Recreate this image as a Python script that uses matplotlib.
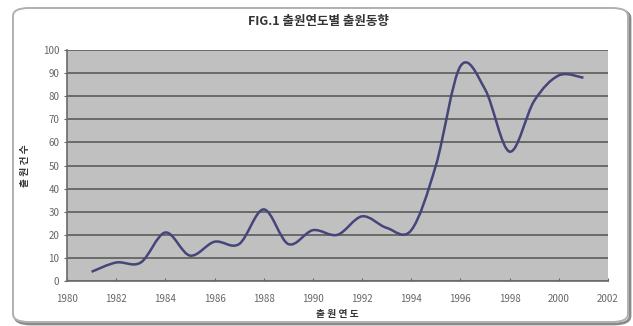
import matplotlib
matplotlib.use("Agg")
import matplotlib.pyplot as plt
from matplotlib.path import Path
from matplotlib.patches import PathPatch, FancyBboxPatch

plt.rcParams['font.family'] = ['Noto Sans CJK KR', 'DejaVu Sans']

# Filings per year
years = [1981, 1982, 1983, 1984, 1985, 1986, 1987, 1988, 1989, 1990, 1991,
         1992, 1993, 1994, 1995, 1996, 1997, 1998, 1999, 2000, 2001]
counts = [4, 8, 8, 21, 11, 17, 16, 31, 16, 22, 20,
          28, 23, 22, 50, 93, 83, 56, 78, 89, 88]

xticks = list(range(1980, 2003, 2))
yticks = list(range(0, 101, 10))

title = "FIG.1 출원연도별 출원동향"
xlabel = "출 원 연 도"
ylabel = "출 원 건 수"


def smooth_path(xs, ys, tension=1 / 6):
    """Cubic Bezier path through the points (Catmull-Rom style smoothing)."""
    verts = [(xs[0], ys[0])]
    codes = [Path.MOVETO]
    n = len(xs)
    for i in range(n - 1):
        x0, y0 = (xs[i - 1], ys[i - 1]) if i > 0 else (xs[i], ys[i])
        x1, y1 = xs[i], ys[i]
        x2, y2 = xs[i + 1], ys[i + 1]
        x3, y3 = (xs[i + 2], ys[i + 2]) if i + 2 < n else (xs[i + 1], ys[i + 1])
        c1 = (x1 + (x2 - x0) * tension, y1 + (y2 - y0) * tension)
        c2 = (x2 - (x3 - x1) * tension, y2 - (y3 - y1) * tension)
        verts += [c1, c2, (x2, y2)]
        codes += [Path.CURVE4] * 3
    return Path(verts, codes)


W, H = 633, 326
fig = plt.figure(figsize=(W / 100, H / 100), dpi=100)
fig.patch.set_facecolor('white')

# Rounded chart frame with a soft shadow on the right/bottom
x0, x1, ytop, ybot = 13, 628, 8, 322
shadow = FancyBboxPatch(((x0 + 2) / W, 1 - (ybot + 2) / H),
                        (x1 - x0) / W, (ybot - ytop) / H,
                        boxstyle="round,pad=0,rounding_size=0.025",
                        transform=fig.transFigure, facecolor='none',
                        edgecolor='#8a8a8a', linewidth=2.0, zorder=0)
frame = FancyBboxPatch((x0 / W, 1 - ybot / H), (x1 - x0) / W, (ybot - ytop) / H,
                       boxstyle="round,pad=0,rounding_size=0.025",
                       transform=fig.transFigure, facecolor='white',
                       edgecolor='#b0b0b0', linewidth=1.4, zorder=0.5)
fig.patches.extend([shadow, frame])

ax = fig.add_axes([67 / W, 1 - 281 / H, (608 - 67) / W, (281 - 50) / H])
ax.set_zorder(2)
ax.set_facecolor('#c0c0c0')
ax.set_xlim(1980, 2002)
ax.set_ylim(0, 100)
ax.set_xticks(xticks)
ax.set_yticks(yticks)
ax.tick_params(axis='both', labelsize=7, colors='#666666', length=2.5,
               width=0.8, pad=3)
ax.tick_params(axis='x', direction='in', pad=9)
ax.grid(axis='y', color='#5c5c5c', linewidth=1.2)
ax.set_axisbelow(True)
for side in ['top', 'right']:
    ax.spines[side].set_visible(False)
for side in ['left', 'bottom']:
    ax.spines[side].set_color('#6a6a6a')
    ax.spines[side].set_linewidth(1.2)

ax.add_patch(PathPatch(smooth_path(years, counts), facecolor='none',
                       edgecolor='#45457a', linewidth=1.8, zorder=3))

ax.set_xlabel(xlabel, fontsize=7, fontweight='bold', color='#333333', labelpad=4)
ax.set_ylabel(ylabel, fontsize=7, fontweight='bold', color='#333333', labelpad=9)
fig.text(318 / W, 1 - 21 / H, title, ha='center', va='center', fontsize=9,
         fontweight='bold', color='#333333', zorder=3)

fig.savefig('out.png', dpi=100, facecolor='white')
